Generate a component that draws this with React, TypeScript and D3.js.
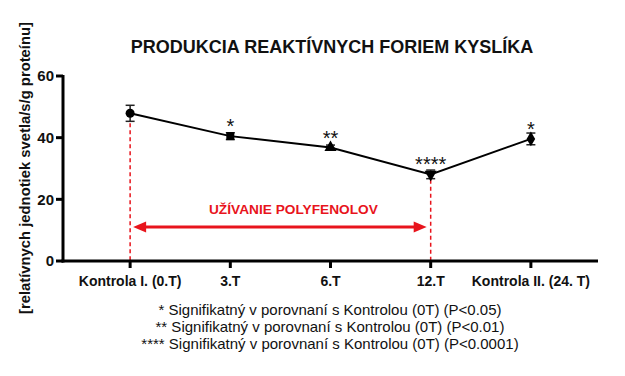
import React from "react";
import * as d3 from "d3";

const categories = ["Kontrola I. (0.T)", "3.T", "6.T", "12.T", "Kontrola II. (24. T)"];
const means = [47.9, 40.5, 36.8, 28.1, 39.6];
const errors = [2.6, 1.1, 0.8, 1.4, 1.9];
const stars = ["", "*", "**", "****", "*"];
const markers = ["circle", "square", "triangle", "triangleDown", "diamond"];
const yTicks = [0, 20, 40, 60];
const footnotes = [
  "* Signifikatný v porovnaní s Kontrolou (0T) (P<0.05)",
  "** Signifikatný v porovnaní s Kontrolou (0T) (P<0.01)",
  "**** Signifikatný v porovnaní s Kontrolou (0T) (P<0.0001)",
];
const title = "PRODUKCIA REAKTÍVNYCH FORIEM KYSLÍKA";
const yLabel = "[relatívnych jednotiek svetla/s/g proteínu]";
const arrowLabel = "UŽÍVANIE POLYFENOLOV";
const arrowFrom = 0;
const arrowTo = 3;

const FONT = "'Liberation Sans', Arial, sans-serif";

export default function App() {
  const W = 625, H = 376;
  const x0 = 63, x1 = 598, yTop = 76, yBot = 261;
  const x = d3.scalePoint<string>().domain(categories).range([x0, x1]).padding(0.67);
  const y = d3.scaleLinear().domain([0, 60]).range([yBot, yTop]);
  const data = categories.map((c, i) => ({ c, m: means[i], e: errors[i], s: stars[i], mk: markers[i] }));
  const line = d3.line<typeof data[0]>().x(d => x(d.c)!).y(d => y(d.m));
  const symMap: Record<string, d3.SymbolType> = {
    circle: d3.symbolCircle,
    square: d3.symbolSquare,
    triangle: d3.symbolTriangle,
    triangleDown: d3.symbolTriangle,
    diamond: d3.symbolDiamond,
  };
  const red = "#e8141c";
  const xa = x(categories[arrowFrom])!;
  const xb = x(categories[arrowTo])!;
  const ay = y(11);
  return (
    <svg width={W} height={H} style={{ position: "absolute", left: 0, top: 0, background: "#fff" }}>
      <rect width={W} height={H} fill="#fff" />
      <text x={332} y={53} textAnchor="middle" fontFamily={FONT} fontWeight="bold" fontSize={18} fill="#111">{title}</text>
      <text transform={`translate(30,168) rotate(-90)`} textAnchor="middle" fontFamily={FONT} fontWeight="bold" fontSize={14.8} fill="#111">{yLabel}</text>
      {/* dashed red lines */}
      <line x1={xa} x2={xa} y1={y(means[arrowFrom] - errors[arrowFrom]) + 2} y2={yBot} stroke={red} strokeWidth={1.5} strokeDasharray="4,3" />
      <line x1={xb} x2={xb} y1={y(means[arrowTo] - errors[arrowTo]) + 1} y2={yBot} stroke={red} strokeWidth={1.5} strokeDasharray="4,3" />
      {/* arrow */}
      <line x1={xa + 10} x2={xb - 10} y1={ay} y2={ay} stroke={red} strokeWidth={3} />
      <path d={`M${xa + 3},${ay} L${xa + 16},${ay - 5.5} L${xa + 16},${ay + 5.5} Z`} fill={red} />
      <path d={`M${xb - 4},${ay} L${xb - 17},${ay - 5.5} L${xb - 17},${ay + 5.5} Z`} fill={red} />
      <text x={(xa + xb) / 2 + 13} y={ay - 13} textAnchor="middle" fontFamily={FONT} fontWeight="bold" fontSize={13.7} fill={red}>{arrowLabel}</text>
      {/* axes */}
      <line x1={x0} x2={x0} y1={yTop - 1} y2={yBot + 1.5} stroke="#000" strokeWidth={3} />
      <line x1={x0 - 1.5} x2={x1} y1={yBot} y2={yBot} stroke="#000" strokeWidth={3} />
      {yTicks.map(t => (
        <g key={t}>
          <line x1={x0 - 7} x2={x0} y1={y(t)} y2={y(t)} stroke="#000" strokeWidth={3} />
          <text x={x0 - 9} y={y(t)} dy="0.36em" textAnchor="end" fontFamily={FONT} fontWeight="bold" fontSize={15} fill="#111">{t}</text>
        </g>
      ))}
      {categories.map(c => (
        <g key={c}>
          <line x1={x(c)!} x2={x(c)!} y1={yBot} y2={yBot + 7} stroke="#000" strokeWidth={3} />
          <text x={x(c)!} y={yBot + 24.5} textAnchor="middle" fontFamily={FONT} fontWeight="bold" fontSize={14} fill="#111">{c}</text>
        </g>
      ))}
      {/* line */}
      <path d={line(data)!} fill="none" stroke="#000" strokeWidth={2} />
      {data.map(d => {
        const cx = x(d.c)!;
        const rot = d.mk === "triangleDown" ? 180 : 0;
        return (
          <g key={d.c}>
            <line x1={cx} x2={cx} y1={y(d.m + d.e)} y2={y(d.m - d.e)} stroke="#222" strokeWidth={1.5} />
            <line x1={cx - 4.5} x2={cx + 4.5} y1={y(d.m + d.e)} y2={y(d.m + d.e)} stroke="#222" strokeWidth={1.5} />
            <line x1={cx - 4.5} x2={cx + 4.5} y1={y(d.m - d.e)} y2={y(d.m - d.e)} stroke="#222" strokeWidth={1.5} />
            <path transform={`translate(${cx},${y(d.m)}) rotate(${rot})`} d={d3.symbol(symMap[d.mk], 64)()!} fill="#000" />
            {d.s && (
              <text x={cx} y={y(d.m) - 3} textAnchor="middle" fontFamily={FONT} fontSize={20} fill="#111">{d.s}</text>
            )}
          </g>
        );
      })}
      {footnotes.map((f, i) => (
        <text key={i} x={330} y={315 + i * 17} textAnchor="middle" fontFamily={FONT} fontSize={15} fill="#111">{f}</text>
      ))}
    </svg>
  );
}
